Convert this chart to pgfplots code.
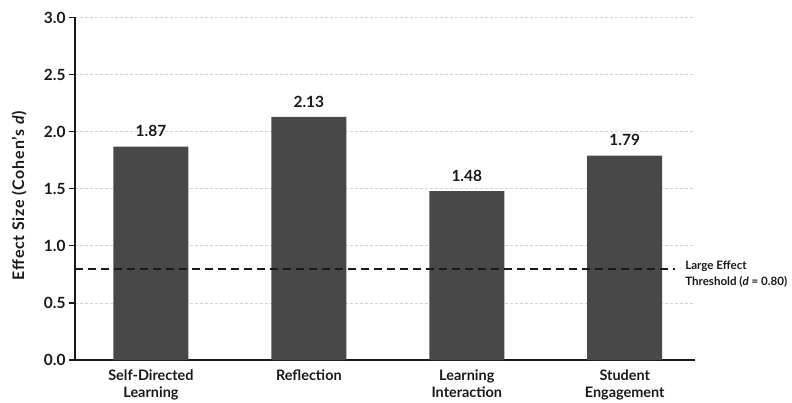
\documentclass[border=0pt]{standalone}
\usepackage{fontspec}
\setmainfont{Lato}
\usepackage{pgfplots}
\pgfplotsset{compat=1.18}

\definecolor{barfill}{RGB}{72,72,72}
\definecolor{ink}{RGB}{25,25,25}
\definecolor{gridc}{RGB}{210,210,210}

\begin{document}
\begin{tikzpicture}
\begin{axis}[
  scale only axis,
  width=620bp, height=342.5bp,
  xmin=-0.481, xmax=3.445,
  ymin=0, ymax=3,
  clip=false,
  axis x line*=bottom, axis y line*=left,
  axis line style={ink, line width=1.3bp},
  ytick={0,0.5,1,1.5,2,2.5,3},
  yticklabel style={
    font=\fontsize{15.5}{18}\selectfont\bfseries, text=ink,
    /pgf/number format/.cd, fixed, fixed zerofill, precision=1, assume math mode=true},
  tick align=outside,
  major tick length=6bp,
  ytick style={ink, line width=1.3bp},
  xtick={0,1,2,3},
  xticklabels={{Self-Directed\\Learning},{Reflection},{Learning\\Interaction},{Student\\Engagement}},
  xtick style={draw=none},
  xticklabel style={align=center, font=\fontsize{14.5}{17}\selectfont\bfseries, text=ink},
  ymajorgrids,
  grid style={gridc, dash pattern=on 3bp off 2bp, line width=0.8bp},
  ylabel={Effect Size (Cohen's \textit{d})},
  ylabel style={at={(axis description cs:-0.090,0.48)}, anchor=center,
    font=\fontsize{16}{19}\selectfont\bfseries\addfontfeature{LetterSpace=5}, text=ink},
]
% effect sizes per outcome
\addplot[ybar, bar width=0.475, fill=barfill, draw=none,
  nodes near coords={\pgfmathprintnumber[fixed,fixed zerofill,precision=2,assume math mode=true]{\pgfplotspointmeta}},
  nodes near coords style={font=\fontsize{15.5}{18}\selectfont\bfseries, text=ink,
    anchor=south, inner sep=0pt, yshift=9.5bp}]
  coordinates {(0,1.87) (1,2.13) (2,1.48) (3,1.79)};
% large effect threshold
\addplot[ink, line width=1.7bp, dash pattern=on 8bp off 5bp]
  coordinates {(-0.481,0.8) (3.319,0.8)};
\node[anchor=west, align=left, font=\fontsize{11.6}{16}\selectfont\bfseries, text=ink,
  inner sep=0pt, xshift=10bp, yshift=-5bp] at (axis cs:3.319,0.8)
  {Large Effect\\Threshold (\textit{d} = 0.80)};
\end{axis}
\pgfresetboundingbox
\path (current axis.south west) ++(-75bp,-43bp) rectangle ++(792bp,403bp);
\end{tikzpicture}
\end{document}
